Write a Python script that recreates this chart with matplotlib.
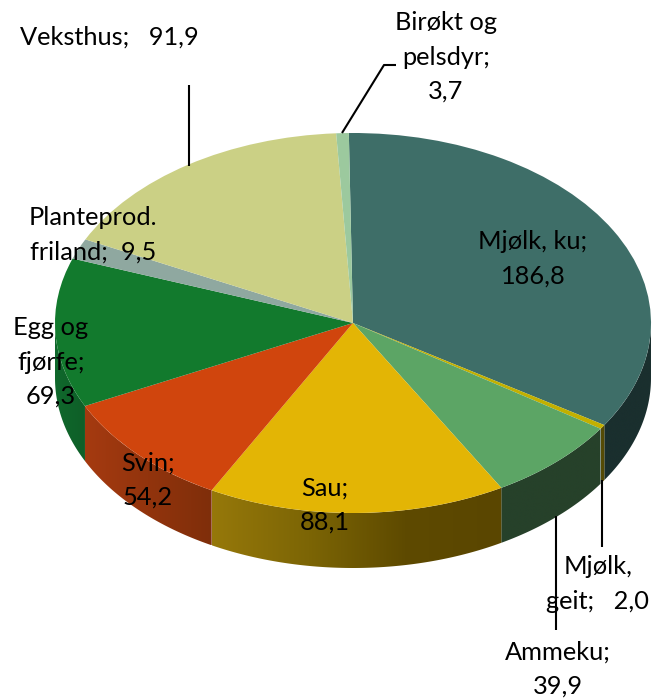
import numpy as np
import matplotlib
matplotlib.use("Agg")
import matplotlib.pyplot as plt
from matplotlib.colors import LinearSegmentedColormap
from matplotlib.patches import Polygon

categories = ["Mjølk, ku", "Mjølk, geit", "Ammeku", "Sau", "Svin",
              "Egg og fjørfe", "Planteprod. friland", "Veksthus", "Birøkt og pelsdyr"]
values = [186.8, 2.0, 39.9, 88.1, 54.2, 69.3, 9.5, 91.9, 3.7]
label_texts = ["Mjølk, ku;\n186,8", "Mjølk,\ngeit;   2,0", "Ammeku;\n39,9", "Sau;\n88,1",
               "Svin;\n54,2", "Egg og\nfjørfe;\n69,3", "Planteprod.\nfriland;  9,5",
               "Veksthus;   91,9", "Birøkt og\npelsdyr;\n3,7"]
top_colors = ["#3E6E68", "#C2B000", "#5CA565", "#E3B505", "#D0450D",
              "#127A2D", "#8FA8A0", "#CBD085", "#9CC99E"]
# wall colours, left end to right end of each visible wall
side_colors = [("#1A2F2E", "#1A2F2E"), ("#554B05", "#554B05"), ("#26412A", "#26412A"),
               ("#96780A", "#7C6505", "#5E4A00", "#5A4600"), ("#A53A10", "#7F2E0A"),
               ("#10682C", "#0E5F28"), ("#6B7E78", "#6B7E78"), ("#989C64", "#989C64"),
               ("#75977A", "#75977A")]

W, H = 656, 699
CX, CY, RX, RY, DEPTH = 353, 323, 298, 190, 55
START_CW = -0.8  # degrees clockwise from the top


def px(x, y):
    """Figure pixel (origin top-left) to data coordinates of the unit pie."""
    return (x - CX) / RX, (CY - y) / RY


fig = plt.figure(figsize=(W / 100, H / 100), dpi=100)
ax = fig.add_axes([0, 0, 1, 1])
plt.rcParams["font.family"] = ["Lato", "DejaVu Sans"]

wedges, _ = ax.pie(values, colors=top_colors, startangle=90 - START_CW, counterclock=False,
                   radius=1, wedgeprops=dict(linewidth=0, zorder=3))

fractions = np.array(values) / sum(values)
edges = START_CW + np.concatenate([[0], np.cumsum(fractions)]) * 360
d = DEPTH / RY
for i in range(len(values)):
    a0, a1 = max(edges[i], 90), min(edges[i + 1], 270)
    if a1 <= a0:
        continue
    t = np.radians(np.linspace(a0, a1, 120))
    xs, ys = np.sin(t), np.cos(t)
    verts = np.column_stack([np.r_[xs, xs[::-1]], np.r_[ys, ys[::-1] - d]])
    poly = Polygon(verts, closed=True, facecolor="none", edgecolor="none",
                   transform=ax.transData)
    ax.add_patch(poly)
    cmap = LinearSegmentedColormap.from_list(f"s{i}", list(side_colors[i]))
    im = ax.imshow(np.linspace(0, 1, 256)[None, :], cmap=cmap, aspect="auto", zorder=2,
                   extent=(xs.min(), xs.max(), ys.min() - d, ys.max()), interpolation="bilinear")
    im.set_clip_path(poly)

ax.set_aspect("auto")
ax.set_xlim(px(0, 0)[0], px(W, 0)[0])
ax.set_ylim(px(0, H)[1], px(0, 0)[1])
ax.axis("off")

# leader lines
leaders = [
    [(189, 85), (189, 166)],
    [(342, 133), (384, 65), (396, 65)],
    [(601.5, 480), (601.5, 547)],
    [(556, 516), (556, 630)],
]
for pts in leaders:
    xy = np.array([px(*p) for p in pts])
    ax.plot(xy[:, 0], xy[:, 1], color="black", lw=1.5, zorder=4, solid_capstyle="butt")

label_pos = [(533, 259), (598, 584), (558, 669), (325, 505), (148, 480),
             (51, 362), (93, 235), (109, 37), (446, 57)]
for txt, (x, y) in zip(label_texts, label_pos):
    ax.text(*px(x, y), txt, ha="center", va="center", fontsize=18.3, color="black",
            linespacing=1.6, zorder=5, family=["Lato", "DejaVu Sans"])

fig.savefig("out.png", dpi=100, facecolor="white")
